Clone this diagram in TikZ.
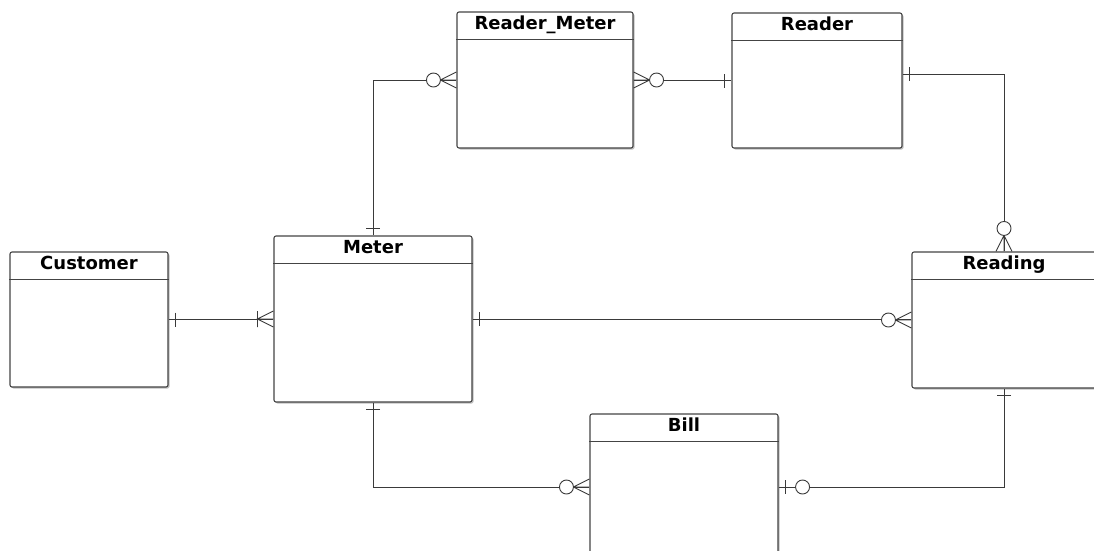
\documentclass[tikz,border=0pt]{standalone}
\usepackage{fontspec}
\setmainfont{DejaVu Sans}
\usetikzlibrary{shadows}

\definecolor{boxline}{HTML}{444444}
\definecolor{wireline}{HTML}{3A3A3A}

\tikzset{
  entity/.style={draw=boxline, line width=1.1pt, fill=white, rounded corners=2pt, inner sep=0pt,
    drop shadow={shadow xshift=1.5pt, shadow yshift=-1.5pt, opacity=0.25, fill=black}},
  title/.style={anchor=base, inner sep=0pt, font=\bfseries\fontsize{18}{20}\selectfont},
  wire/.style={draw=wireline, line width=0.9pt},
  ring/.style={wire, fill=white},
  % relation ends: origin on the box edge, pointing away along +x
  one/.pic={\draw[wire] (7,-7) -- (7,7);},
  zeroone/.pic={\draw[wire] (7,-7) -- (7,7); \draw[ring] (24,0) circle (7pt);},
  onemany/.pic={\draw[wire] (0,-8) -- (16,0) -- (0,8) (0,0) -- (16,0) (16,-8) -- (16,8);},
  zeromany/.pic={\draw[wire] (0,-8) -- (16,0) -- (0,8) (0,0) -- (16,0); \draw[ring] (23,0) circle (7pt);}
}

\begin{document}
\begin{tikzpicture}[x=1pt, y=-1pt]

  \useasboundingbox (0,0) rectangle (1094,550);
  \clip (0,0) rectangle (1094,550);

  % Entities
  \node[entity, minimum width=158pt, minimum height=135pt] (customer) at (89,319.5) {};
  \node[entity, minimum width=198pt, minimum height=166pt] (meter)    at (373,319) {};
  \node[entity, minimum width=176pt, minimum height=136pt] (rm)       at (545,80) {};
  \node[entity, minimum width=170pt, minimum height=135pt] (reader)   at (817,80.5) {};
  \node[entity, minimum width=184pt, minimum height=136pt] (reading)  at (1004,320) {};
  \node[entity, minimum width=188pt, minimum height=146pt] (bill)     at (684,487) {};

  % Header lines and titles
  \foreach \n/\t in {customer/Customer, meter/Meter, rm/Reader\_Meter,
                     reader/Reader, reading/Reading, bill/Bill} {
    \draw[draw=boxline, line width=1.1pt] ([yshift=-28pt]\n.north west) -- ([yshift=-28pt]\n.north east);
    \node[title] (\n-title) at ([yshift=-18pt]\n.north) {\t};
  }

  % Relations
  \draw[wire] (meter.north) |- (rm.west);
  \draw[wire] (rm.east) -- (reader.west |- rm.east);
  \draw[wire] ([yshift=6.5pt]reader.east) -| (reading.north);
  \draw[wire] (customer.east) -- (meter.west |- customer.east);
  \draw[wire] (meter.east) -- (reading.west |- meter.east);
  \draw[wire] (meter.south) |- (bill.west);
  \draw[wire] (bill.east) -| (reading.south);

  % Cardinality marks
  \pic[rotate=90]  at (meter.north) {one};
  \pic[rotate=180] at (rm.west) {zeromany};
  \pic             at (rm.east) {zeromany};
  \pic[rotate=180] at (reader.west) {one};
  \pic             at ([yshift=6.5pt]reader.east) {one};
  \pic[rotate=90]  at (reading.north) {zeromany};
  \pic             at (customer.east) {one};
  \pic[rotate=180] at (meter.west) {onemany};
  \pic             at (meter.east) {one};
  \pic[rotate=180] at (reading.west) {zeromany};
  \pic[rotate=270] at (meter.south) {one};
  \pic[rotate=180] at (bill.west) {zeromany};
  \pic             at (bill.east) {zeroone};
  \pic[rotate=270] at (reading.south) {one};

\end{tikzpicture}
\end{document}
